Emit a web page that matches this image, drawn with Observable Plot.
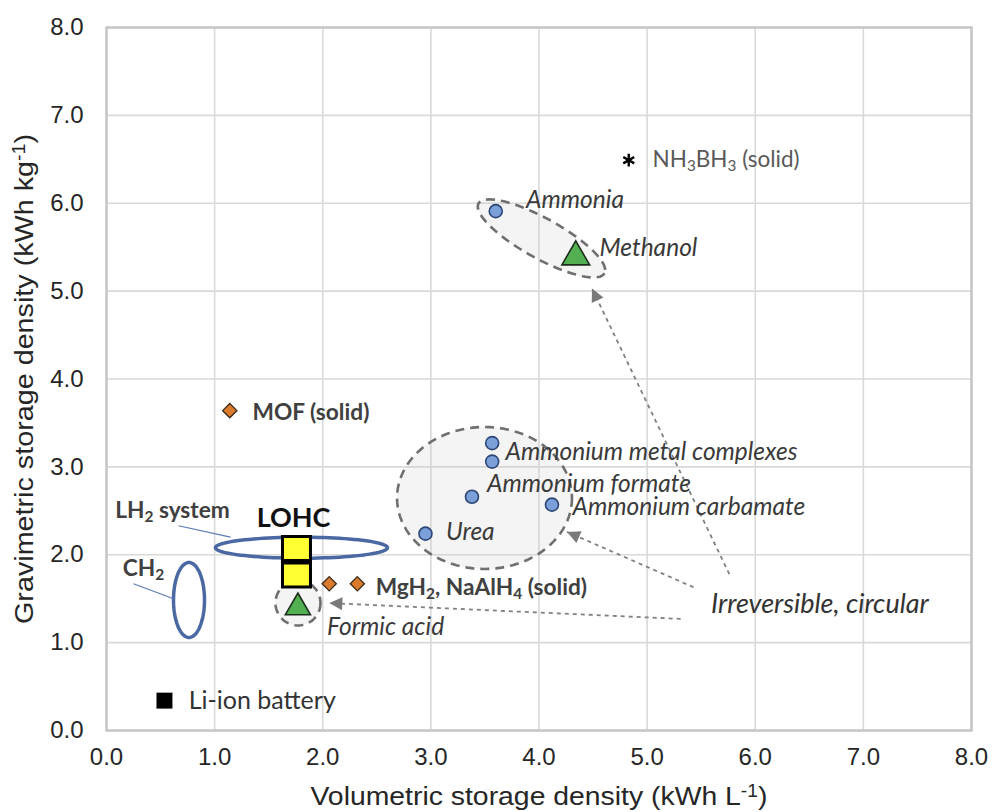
<!DOCTYPE html>
<html>
<head>
<meta charset="utf-8">
<script src="https://cdn.jsdelivr.net/npm/d3@7"></script>
<script src="https://cdn.jsdelivr.net/npm/@observablehq/plot@0.6"></script>
<style>
  html, body { margin: 0; padding: 0; background: #fff; }
  #chart svg { display: block; }
</style>
</head>
<body>
<div id="chart"></div>
<script>
// ---------------- data ----------------
const xTicks = [0, 1, 2, 3, 4, 5, 6, 7, 8];
const yTicks = [0, 1, 2, 3, 4, 5, 6, 7, 8];
const xTitle = "Volumetric storage density (kWh L⁻¹)";
const yTitle = "Gravimetric storage density (kWh kg⁻¹)";

// blue circles (N-based carriers)
const circleName = ["Ammonia", "Ammonium metal complexes (a)", "Ammonium metal complexes (b)", "Ammonium formate", "Ammonium carbamate", "Urea"];
const circleX = [3.60, 3.567, 3.567, 3.38, 4.12, 2.95];
const circleY = [5.91, 3.27, 3.06, 2.66, 2.57, 2.24];

// green triangles
const triangleName = ["Methanol", "Formic acid"];
const triangleX = [4.34, 1.77];
const triangleY = [5.39, 1.40];

// orange diamonds (solid hydrides / MOF)
const diamondName = ["MOF", "MgH₂", "NaAlH₄"];
const diamondX = [1.14, 2.06, 2.32];
const diamondY = [3.64, 1.67, 1.67];

// yellow squares (LOHC)
const lohcName = ["LOHC (a)", "LOHC (b)"];
const lohcX = [1.757, 1.757];
const lohcY = [2.07, 1.77];

// Li-ion battery (black square)
const batteryX = [0.536];
const batteryY = [0.34];

// NH3BH3 (asterisk)
const nh3bh3X = [4.83];
const nh3bh3Y = [6.49];

// regions (ellipses) centres
const regionName = ["LH₂ system", "CH₂", "Ammonia / Methanol", "Ammonium compounds", "Formic acid"];
const regionX = [1.803, 0.763, 4.023, 3.496, 1.771];
const regionY = [2.08, 1.485, 5.60, 2.646, 1.451];

// leader lines for LH2 / CH2 labels
const leaderX1 = [0.666, 0.25];
const leaderY1 = [2.33, 1.67];
const leaderX2 = [1.147, 0.62];
const leaderY2 = [2.20, 1.50];

// "Irreversible, circular" arrows (start -> tip)
const arrowX1 = [5.76, 5.43, 5.31];
const arrowY1 = [1.78, 1.63, 1.27];
const arrowX2 = [4.49, 4.26, 2.06];
const arrowY2 = [5.03, 2.26, 1.45];

// labels
const italicText = ["Ammonia", "Methanol", "Ammonium metal complexes", "Ammonium formate", "Ammonium carbamate", "Urea", "Formic acid"];
const italicX = [3.88, 4.56, 3.69, 3.52, 4.31, 3.14, 2.04];
const italicY = [6.03, 5.49, 3.17, 2.80, 2.54, 2.26, 1.18];

const boldText = ["MOF (solid)", "LH₂ system", "CH₂", "MgH₂, NaAlH₄ (solid)"];
const boldX = [1.35, 0.08, 0.15, 2.49];
const boldY = [3.62, 2.50, 1.84, 1.63];

const regularText = ["NH₃BH₃ (solid)", "Li-ion battery"];
const regularX = [5.05, 0.76];
const regularY = [6.50, 0.34];

const lohcLabel = ["LOHC"];
const lohcLabelX = [1.73];
const lohcLabelY = [2.41];

const noteText = ["Irreversible, circular"];
const noteX = [5.59];
const noteY = [1.44];

// ---------------- layout ----------------
const W = 993, H = 812;
const mL = 106, mR = 22, mT = 27, mB = 82;
const kx = (W - mL - mR) / 8;   // px per unit (x)
const ky = (H - mT - mB) / 8;   // px per unit (y)

// custom symbols
function ellipseSymbol(rx, ry, deg = 0) {
  const a = deg * Math.PI / 180, c = Math.cos(a), s = Math.sin(a);
  return {
    draw(ctx) {
      const n = 96;
      for (let k = 0; k <= n; k++) {
        const t = 2 * Math.PI * k / n;
        const px = rx * Math.cos(t), py = ry * Math.sin(t);
        const X = px * c - py * s, Y = px * s + py * c;
        if (k === 0) ctx.moveTo(X, Y); else ctx.lineTo(X, Y);
      }
      ctx.closePath();
    }
  };
}
function rectSymbol(w, h) {
  return { draw(ctx) { ctx.rect(-w / 2, -h / 2, w, h); } };
}
function arrowHead(i, L = 13, hw = 6.5) {
  const dx = (arrowX2[i] - arrowX1[i]) * kx;
  const dy = -(arrowY2[i] - arrowY1[i]) * ky;
  const th = Math.atan2(dy, dx);
  const ux = Math.cos(th), uy = Math.sin(th), nx = -uy, ny = ux;
  return {
    draw(ctx) {
      ctx.moveTo(0, 0);
      ctx.lineTo(-L * ux + hw * nx, -L * uy + hw * ny);
      ctx.lineTo(-L * ux - hw * nx, -L * uy - hw * ny);
      ctx.closePath();
    }
  };
}

const idx = a => a.map((_, i) => i);
const LABEL_FONT = "Lato, 'Open Sans', sans-serif";
const AXIS_FONT = "'Liberation Sans', Arial, sans-serif";

const regionDash = { fill: "#cfcfcf", fillOpacity: 0.22, stroke: "#6f6f6f", strokeWidth: 2.6, strokeDasharray: "9,6" };
const regionBlue = { fill: "none", stroke: "#4a69a3", strokeWidth: 3.5 };
const regionMark = (i, sym, style) => Plot.dot([i], { x: j => regionX[j], y: j => regionY[j], r: 10, symbol: sym, ...style });

const chart = Plot.plot({
  width: W, height: H,
  marginLeft: mL, marginRight: mR, marginTop: mT, marginBottom: mB,
  x: { domain: [0, 8] },
  y: { domain: [0, 8] },
  style: { fontFamily: AXIS_FONT, fontSize: "24px", color: "#262626", background: "#fff" },
  marks: [
    Plot.gridX(xTicks, { stroke: "#d9d9d9", strokeOpacity: 1, strokeWidth: 1.6 }),
    Plot.gridY(yTicks, { stroke: "#d9d9d9", strokeOpacity: 1, strokeWidth: 1.6 }),
    Plot.frame({ stroke: "#c6c6c6", strokeWidth: 2.5 }),
    Plot.axisX(xTicks, { tickSize: 0, tickPadding: 17, tickFormat: d => d.toFixed(1), label: null }),
    Plot.axisY(yTicks, { tickSize: 0, tickPadding: 23, tickFormat: d => d.toFixed(1), label: null }),
    Plot.text([xTitle], { text: d => d, frameAnchor: "bottom", textAnchor: "middle", lineAnchor: "middle", dy: 66, fontSize: 26, fill: "#262626", className: "axis-title" }),
    Plot.text([yTitle], { text: d => d, frameAnchor: "left", textAnchor: "middle", lineAnchor: "middle", dx: -82, rotate: -90, fontSize: 26, fill: "#262626", className: "axis-title" }),

    // regions
    regionMark(2, ellipseSymbol(72, 20, 29), regionDash),
    regionMark(3, ellipseSymbol(87.5, 71, 0), regionDash),
    regionMark(4, ellipseSymbol(22.5, 22.5, 0), regionDash),
    regionMark(0, ellipseSymbol(86, 10.5, 0), regionBlue),
    regionMark(1, ellipseSymbol(15.5, 37.5, 0), regionBlue),

    // leader lines
    Plot.link(idx(leaderX1), { x1: i => leaderX1[i], y1: i => leaderY1[i], x2: i => leaderX2[i], y2: i => leaderY2[i], stroke: "#5b7bb5", strokeWidth: 1.2 }),

    // arrows
    Plot.link(idx(arrowX1), { x1: i => arrowX1[i], y1: i => arrowY1[i], x2: i => arrowX2[i], y2: i => arrowY2[i], stroke: "#808080", strokeWidth: 1.8, strokeDasharray: "4,4" }),
    ...idx(arrowX1).map(i => Plot.dot([i], { x: j => arrowX2[j], y: j => arrowY2[j], r: 5, symbol: arrowHead(i), fill: "#7a7a7a", stroke: "none" })),

    // points
    Plot.dot(idx(lohcX), { x: i => lohcX[i], y: i => lohcY[i], r: 10, symbol: rectSymbol(28, 24), fill: "#ffff33", stroke: "#000", strokeWidth: 3 }),
    Plot.dot(idx(circleX), { x: i => circleX[i], y: i => circleY[i], r: 6.5, fill: "#7b9fd9", stroke: "#2c4676", strokeWidth: 1.6 }),
    Plot.dot([0], { x: i => triangleX[i], y: i => triangleY[i], symbol: "triangle", r: 10.3, fill: "#52b052", stroke: "#1d2d1d", strokeWidth: 1.6 }),
    Plot.dot([1], { x: i => triangleX[i], y: i => triangleY[i], symbol: "triangle", r: 9.3, fill: "#52b052", stroke: "#1d2d1d", strokeWidth: 1.6 }),
    Plot.dot(idx(diamondX), { x: i => diamondX[i], y: i => diamondY[i], symbol: "diamond2", r: 6.4, fill: "#d97a2c", stroke: "#3a2a1a", strokeWidth: 1.3 }),
    Plot.dot(idx(batteryX), { x: i => batteryX[i], y: i => batteryY[i], symbol: "square", r: 9, fill: "#000", stroke: "none" }),
    Plot.dot(idx(nh3bh3X), { x: i => nh3bh3X[i], y: i => nh3bh3Y[i], symbol: "asterisk", r: 6, stroke: "#000", strokeWidth: 2.4 }),

    // labels
    Plot.text(italicText, { x: (d, i) => italicX[i], y: (d, i) => italicY[i], text: d => d, textAnchor: "start", fontFamily: LABEL_FONT, fontStyle: "italic", fontSize: 24.5, fill: "#3a3a3a" }),
    Plot.text(boldText, { x: (d, i) => boldX[i], y: (d, i) => boldY[i], text: d => d, textAnchor: "start", fontFamily: LABEL_FONT, fontWeight: "bold", fontSize: 22.7, fill: "#404040" }),
    Plot.text([regularText[0]], { x: (d, i) => regularX[0], y: (d, i) => regularY[0], text: d => d, textAnchor: "start", fontFamily: LABEL_FONT, fontSize: 22.5, fill: "#595959" }),
    Plot.text([regularText[1]], { x: (d, i) => regularX[1], y: (d, i) => regularY[1], text: d => d, textAnchor: "start", fontFamily: LABEL_FONT, fontSize: 25, fill: "#333" }),
    Plot.text(lohcLabel, { x: (d, i) => lohcLabelX[i], y: (d, i) => lohcLabelY[i], text: d => d, textAnchor: "middle", fontFamily: LABEL_FONT, fontWeight: "bold", fontSize: 27, fill: "#111" }),
    Plot.text(noteText, { x: (d, i) => noteX[i], y: (d, i) => noteY[i], text: d => d, textAnchor: "start", fontFamily: LABEL_FONT, fontStyle: "italic", fontSize: 27, fill: "#333" })
  ]
});

// subscripts / superscripts as real tspans
const subMap = { "₂": "2", "₃": "3", "₄": "4" };
const supMap = { "⁻": "-", "¹": "1" };
d3.select(chart).selectAll("text").each(function () {
  if (this.querySelector("tspan")) return;
  const t = this.textContent;
  if (!/[₂₃₄⁻¹]/.test(t)) return;
  const runs = [];
  for (const ch of t) {
    const kind = subMap[ch] ? "sub" : supMap[ch] ? "sup" : "n";
    const c = subMap[ch] || supMap[ch] || ch;
    if (runs.length && runs[runs.length - 1].kind === kind) runs[runs.length - 1].s += c;
    else runs.push({ kind, s: c });
  }
  this.textContent = "";
  const el = d3.select(this);
  for (const r of runs) {
    const ts = el.append("tspan").text(r.s);
    if (r.kind === "sub") ts.attr("font-size", "68%").attr("baseline-shift", "-28%");
    if (r.kind === "sup") ts.attr("font-size", "68%").attr("baseline-shift", "45%");
  }
});

document.getElementById("chart").appendChild(chart);

// axis titles: match the condensed width of the original
d3.select(chart).selectAll("g.axis-title text").each(function () {
  this.setAttribute("textLength", this.textContent.startsWith("Volumetric") ? 457 : 490);
  this.setAttribute("lengthAdjust", "spacingAndGlyphs");
});
</script>
</body>
</html>
